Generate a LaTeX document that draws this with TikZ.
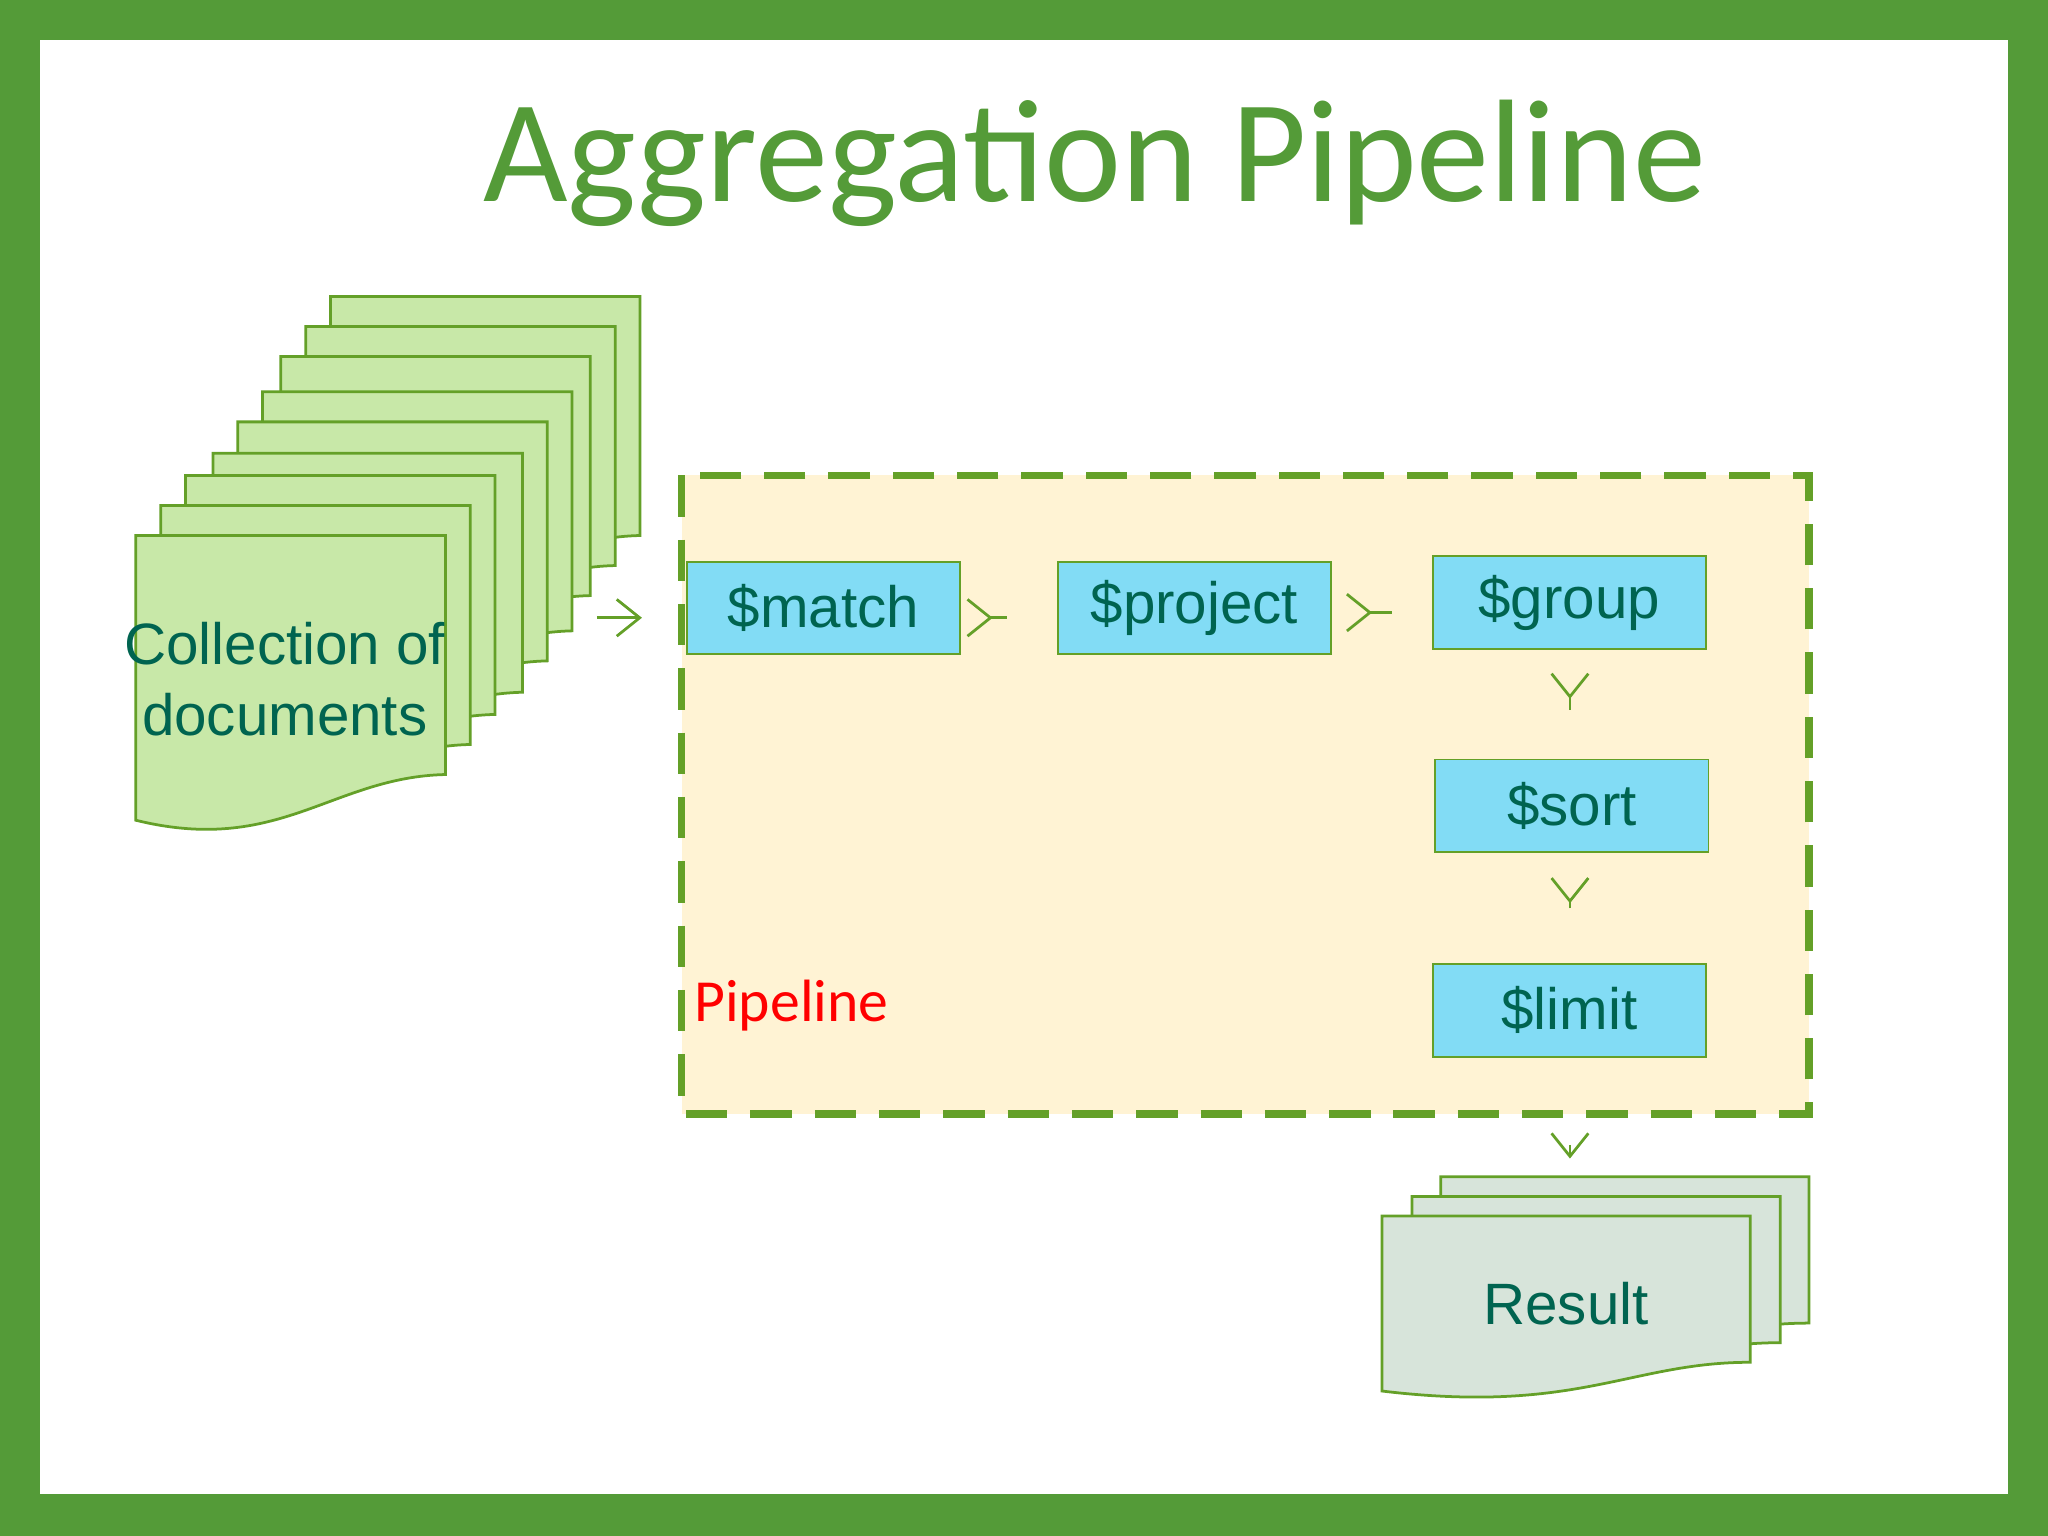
\documentclass[tikz,border=0pt]{standalone}
\usepackage{fontspec}
\setmainfont{Liberation Sans}
\newfontfamily\calib{Carlito}
\usetikzlibrary{positioning,arrows.meta}
\definecolor{framegreen}{RGB}{84,155,56}
\definecolor{linegreen}{RGB}{100,160,40}
\definecolor{docgreen}{RGB}{200,232,168}
\definecolor{resgray}{RGB}{215,228,218}
\definecolor{pipefill}{RGB}{255,243,212}
\definecolor{stagefill}{RGB}{130,220,245}
\definecolor{textteal}{RGB}{0,100,80}
\tikzset{
  stage/.style={draw=linegreen, fill=stagefill, minimum width=2.09cm, minimum height=0.71cm,
    font=\fontsize{12.7}{15}\selectfont, text=textteal, inner sep=0pt},
  flow/.style={-{Straight Barb[length=5pt,width=8pt]}, linegreen, line width=0.6pt},
  doc/.style={draw=linegreen, line width=0.6pt},
  doctext/.style={font=\fontsize{12.7}{15.3}\selectfont, text=textteal, align=center}
}
\begin{document}
\begin{tikzpicture}[x=0.01cm, y=-0.01cm]
\useasboundingbox (0,0) rectangle (1568,1176);
\fill[framegreen] (0,0) rectangle (1568,1176);
\fill[white] (31,31) rectangle (1537,1144);

\node[font=\calib\fontsize{31.8}{36}\selectfont, text=framegreen] (title) at (838,125) {Aggregation Pipeline};

% Collection stack
\foreach \dx/\dy in {149/-183,130/-160,111/-137,97/-110,78/-87,59/-63,38/-46,19/-23,0/0}{
  \draw[doc, fill=docgreen, shift={(104+\dx,410+\dy)}]
    (0,0) -- (237,0) -- (237,183) .. controls (150,185) and (110,245) .. (0,218) -- cycle;
}
\node[doctext] (coll) at (218,520) {Collection of\\documents};

% Pipeline
\draw[linegreen, fill=pipefill, line width=1.6pt, dash pattern=on 9pt off 5pt] (522,364) rectangle (1385,853);
\node[font=\calib\fontsize{13}{15}\selectfont, text=red] (pipe) at (606,770) {Pipeline};

\node[stage] (match) at (630.5,465.5) {\$match};
\node[stage] (project) at (914.5,465.5) {\$project};
\node[stage] (group) at (1201.5,461.5) {\$group};
\node[stage] (sort) at (1203.5,617) {\$sort};
\node[stage] (limit) at (1201.5,773.5) {\$limit};

% Result stack
\foreach \dx/\dy in {45/-30,23/-15,0/0}{
  \draw[doc, fill=resgray, shift={(1058+\dx,931+\dy)}]
    (0,0) -- (282,0) -- (282,112) .. controls (190,112) and (150,152) .. (0,134) -- cycle;
}
\node[doctext] (res) at (1199,998) {Result};
\coordinate (collout) at (457,473);
\coordinate (resin) at (1202,887);

\draw[flow] (collout) -- (collout -| match.west) [shorten >=16\pgflinewidth];
\draw[flow, shorten <=10, shorten >=14] (match.east |- 0,473) -- (project.west |- 0,473);
\draw[flow, shorten <=13, shorten >=13] (project.east |- 0,469) -- (group.west |- 0,469);
\draw[flow, shorten <=13, shorten >=13] (group.south -| 1202,0) -- (sort.north -| 1202,0);
\draw[flow, shorten <=12, shorten >=13] (sort.south -| 1202,0) -- (limit.north -| 1202,0);
\draw[flow, shorten <=19] (limit.south -| 1202,0) -- (resin);
\end{tikzpicture}
\end{document}
